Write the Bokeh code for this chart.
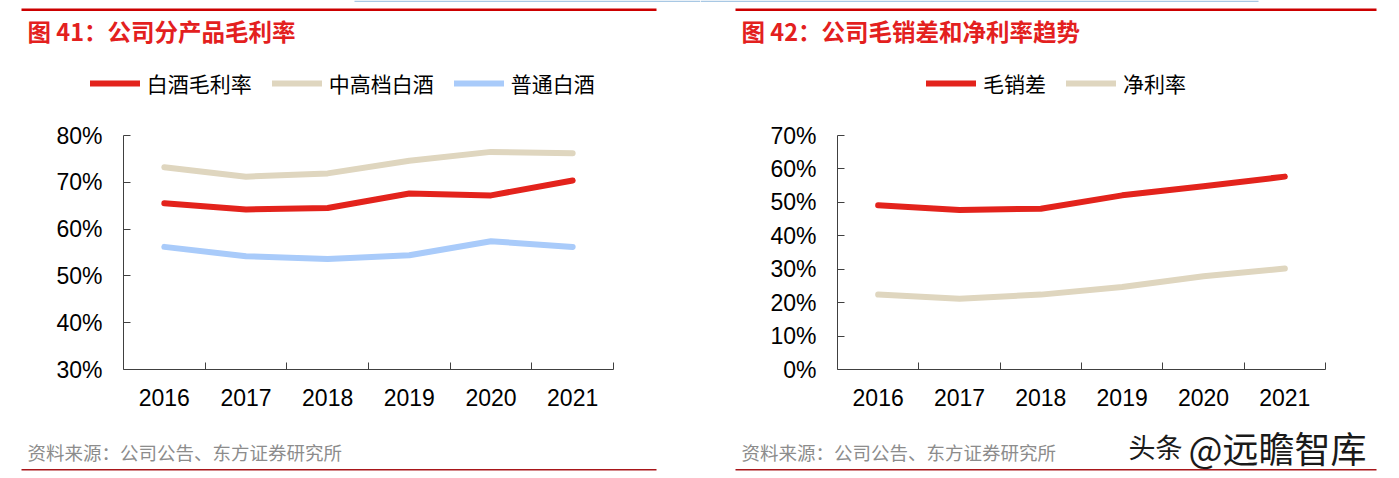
from bokeh.plotting import figure
from bokeh.layouts import row, column
from bokeh.models import (Range1d, FixedTicker, PrintfTickFormatter, Legend,
                          LegendItem, Label, BoxAnnotation)
from bokeh.embed import file_html
from bokeh.resources import INLINE

# ---------------- data ----------------
years = [2016, 2017, 2018, 2019, 2020, 2021]

# 图41 公司分产品毛利率 (%)
baijiu_gross = [65.5, 64.2, 64.5, 67.6, 67.2, 70.4]      # 白酒毛利率
midhigh_gross = [73.2, 71.2, 71.9, 74.6, 76.5, 76.2]     # 中高档白酒
ordinary_gross = [56.2, 54.2, 53.6, 54.4, 57.4, 56.2]    # 普通白酒
y1_ticks = [30, 40, 50, 60, 70, 80]

# 图42 公司毛销差和净利率趋势 (%)
gross_sales_gap = [49.1, 47.7, 48.1, 52.1, 54.8, 57.7]   # 毛销差
net_margin = [22.4, 21.2, 22.4, 24.7, 27.9, 30.2]        # 净利率
y2_ticks = [0, 10, 20, 30, 40, 50, 60, 70]

title1 = "图 41：公司分产品毛利率"
title2 = "图 42：公司毛销差和净利率趋势"
source_text = "资料来源：公司公告、东方证券研究所"
watermark1 = "头条"
watermark2 = "@远瞻智库"

RED = "#e3231c"
BEIGE = "#dfd6bf"
BLUE = "#a9cbfa"
CJK = "Noto Sans CJK SC"
NUM = "Liberation Sans"

HEAD_H = 110
CHART_H = 310
FOOT_H = 58
CH_TOP = 25
FRAME_H = 234
CH_BOTTOM = CHART_H - CH_TOP - FRAME_H


def deco_fig(x0, w, y0, h):
    # figure whose frame fills the whole area; data units = page pixels
    f = figure(width=w, height=h, output_backend="svg", toolbar_location=None,
               x_range=Range1d(x0, x0 + w), y_range=Range1d(y0 + h, y0),
               x_axis_location=None, y_axis_location=None,
               min_border=0, min_border_left=0, min_border_right=0,
               min_border_top=0, min_border_bottom=0)
    f.frame_align = False
    f.outline_line_color = None
    f.background_fill_color = "white"
    for g in f.grid:
        g.visible = False
    return f


def make_chart(x0, width, frame_left, frame_w, yr, yticks, series,
               legend_x, title, deco_left, deco_right, blue_span,
               watermark=False):
    # ---------- header: top rules, title, legend ----------
    head = deco_fig(x0, width, 0, HEAD_H)
    head.add_layout(BoxAnnotation(left=blue_span[0], right=blue_span[1],
                                  top=0, bottom=1.5, fill_color="#a8c8e4",
                                  fill_alpha=1, line_color=None))
    head.add_layout(BoxAnnotation(left=deco_left, right=deco_right,
                                  top=8, bottom=10.5, fill_color="#cc0000",
                                  fill_alpha=1, line_color=None))
    head.add_layout(Label(x=deco_left + 6, y=30, text=title, text_font=CJK,
                          text_font_size="23.5px", text_font_style="bold",
                          text_color="#e3201e", text_baseline="middle"))

    # ---------- chart ----------
    p = figure(width=width, height=CHART_H, output_backend="svg",
               toolbar_location=None,
               x_range=Range1d(years[0] - 0.5, years[-1] + 0.5),
               y_range=Range1d(*yr),
               min_border_left=frame_left,
               min_border_right=width - frame_left - frame_w,
               min_border_top=CH_TOP, min_border_bottom=CH_BOTTOM)
    p.frame_align = False
    p.outline_line_color = None
    p.xgrid.visible = False
    p.ygrid.visible = False

    xa = p.xaxis[0]
    xa.ticker = FixedTicker(ticks=years, minor_ticks=[y + 0.5 for y in years])
    xa.major_tick_line_color = None
    xa.minor_tick_in = 7
    xa.minor_tick_out = 0
    xa.minor_tick_line_color = "#404040"
    xa.axis_line_color = "#404040"
    xa.major_label_standoff = 13
    xa.major_label_text_font = NUM
    xa.major_label_text_font_size = "23px"
    xa.major_label_text_color = "black"
    xa.major_label_overrides = {y: str(y) for y in years}

    ya = p.yaxis[0]
    ya.ticker = FixedTicker(ticks=yticks, minor_ticks=[])
    ya.formatter = PrintfTickFormatter(format="%d%%")
    ya.major_tick_in = 7
    ya.major_tick_out = 0
    ya.major_tick_line_color = "#404040"
    ya.minor_tick_line_color = None
    ya.axis_line_color = "#404040"
    ya.major_label_standoff = 21
    ya.major_label_text_font = NUM
    ya.major_label_text_font_size = "23px"
    ya.major_label_text_color = "black"

    items = []
    for label, vals, color in series:
        style = dict(line_color=color, line_width=6, line_cap="round",
                     line_join="round")
        p.line(years, vals, **style)
        # same series in the header figure (outside its visible range):
        # only used to draw the legend key there
        key = head.line(years, vals, **style)
        items.append(LegendItem(label=label, renderers=[key]))

    item_h = 24
    legend = Legend(items=items, orientation="horizontal",
                    location=(legend_x - x0, HEAD_H - 86 - item_h / 2),
                    glyph_width=50, glyph_height=item_h, label_height=item_h,
                    label_standoff=7, spacing=20, padding=0, margin=0,
                    border_line_color=None, background_fill_alpha=0,
                    label_text_font=CJK, label_text_font_size="21px",
                    label_text_color="black")
    head.add_layout(legend, "center")

    # ---------- footer: source, bottom rule ----------
    y0f = HEAD_H + CHART_H
    foot = deco_fig(x0, width, y0f, FOOT_H)
    foot.add_layout(Label(x=deco_left + 6, y=451.5, text=source_text,
                          text_font=CJK, text_font_size="18.5px",
                          text_color="#8c8c8c", text_baseline="middle"))
    foot.add_layout(BoxAnnotation(left=deco_left, right=deco_right,
                                  top=468.5, bottom=470,
                                  fill_color="#a8161a", fill_alpha=1,
                                  line_color=None))
    if watermark:
        foot.add_layout(Label(x=1128, y=446, text=watermark1, text_font=CJK,
                              text_font_size="27px", text_color="#1a1a1a",
                              text_baseline="middle"))
        foot.add_layout(Label(x=1188, y=446, text=watermark2, text_font=CJK,
                              text_font_size="36px", text_color="#1a1a1a",
                              text_baseline="middle"))
    return column(head, p, foot, spacing=0)


c1 = make_chart(0, 700, 123, 490, (30, 80), y1_ticks,
                [("白酒毛利率", baijiu_gross, RED),
                 ("中高档白酒", midhigh_gross, BEIGE),
                 ("普通白酒", ordinary_gross, BLUE)],
                89.7, title1, 21, 656, (354, 700))
c2 = make_chart(700, 699, 137, 488, (0, 70), y2_ticks,
                [("毛销差", gross_sales_gap, RED),
                 ("净利率", net_margin, BEIGE)],
                926, title2, 735, 1376, (700, 1258), watermark=True)

layout = row(c1, c2, spacing=0)
open("out.html", "w").write(file_html(layout, INLINE))
